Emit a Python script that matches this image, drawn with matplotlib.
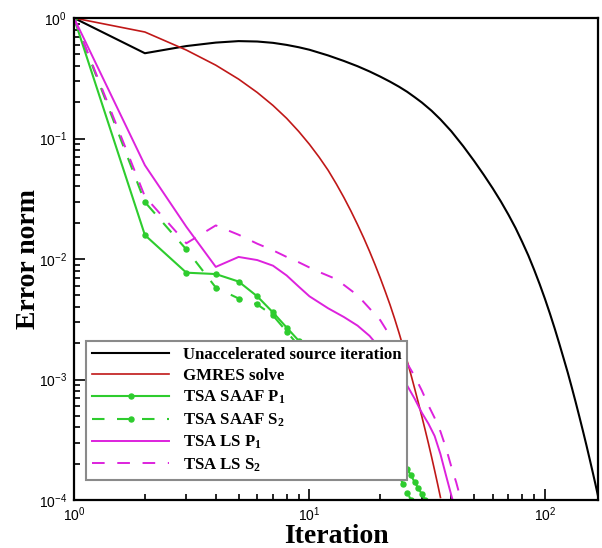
import numpy as np
import matplotlib
matplotlib.use("Agg")
import matplotlib.pyplot as plt
from matplotlib.ticker import LogLocator, FuncFormatter, NullFormatter

plt.rcParams["mathtext.fontset"] = "custom"
plt.rcParams["mathtext.rm"] = "Liberation Serif:bold"
plt.rcParams["mathtext.bf"] = "Liberation Serif:bold"
plt.rcParams["mathtext.sf"] = "Liberation Sans"
plt.rcParams["mathtext.default"] = "rm"

# Unaccelerated source iteration
si_iter = [1, 2, 3, 4, 5, 6, 7, 8, 9, 10, 12, 14, 16, 18, 20, 22, 24, 26, 28, 30,
           33, 36, 40, 45, 50, 55, 60, 65, 70, 75, 80, 85, 90, 95, 100, 105, 110,
           115, 120, 125, 130, 135, 140, 145, 150, 155, 160, 164, 168]
si_err = [1.0, 0.51, 0.585, 0.625, 0.643, 0.638, 0.622, 0.598, 0.572, 0.545, 0.489,
          0.44, 0.398, 0.36, 0.326, 0.296, 0.269, 0.244, 0.22, 0.199, 0.17, 0.144,
          0.115, 0.0862, 0.0652, 0.0499, 0.0386, 0.030, 0.0233, 0.0181, 0.0139,
          0.0107, 0.00813, 0.00617, 0.00467, 0.00352, 0.00265, 0.00199, 0.0015,
          0.00114, 0.00086, 0.00065, 0.000492, 0.000374, 0.000285, 0.000217,
          0.000166, 0.000134, 0.000108]

# GMRES solve
gm_iter = list(range(1, 37))
gm_err = [1.0, 0.765, 0.542, 0.406, 0.311, 0.241, 0.188, 0.147, 0.1145, 0.0894,
          0.0698, 0.0545, 0.042, 0.0324, 0.025, 0.0193, 0.01495, 0.01156, 0.00894,
          0.00692, 0.00535, 0.00415, 0.00319, 0.00244, 0.00186, 0.00142, 0.00109,
          0.000834, 0.000641, 0.000494, 0.000381, 0.000295, 0.000228, 0.000176,
          0.000136, 0.000105]

# TSA SAAF P1
saaf_p1_iter = list(range(1, 32))
saaf_p1_err = [1.0, 0.0158, 0.0077, 0.0075, 0.0065, 0.0049, 0.0036, 0.0027, 0.0021,
               0.00175, 0.00148, 0.00126, 0.00108, 0.00093, 0.0008, 0.00069, 0.0006,
               0.00052, 0.00045, 0.00039, 0.00034, 0.0003, 0.00026, 0.00023, 0.0002,
               0.00018, 0.00016, 0.00014, 0.000125, 0.000112, 0.0001]

# TSA SAAF S2
saaf_s2_iter = list(range(1, 28))
saaf_s2_err = [1.0, 0.0297, 0.012, 0.0058, 0.0047, 0.0042, 0.0034, 0.0025, 0.0019,
               0.0015, 0.00125, 0.00105, 0.0009, 0.00077, 0.00066, 0.00057, 0.00049,
               0.00042, 0.00036, 0.00031, 0.00026, 0.00022, 0.00019, 0.00016,
               0.000135, 0.000115, 0.0001]

# TSA LS P1
ls_p1_iter = [1, 2, 3, 4, 5, 6, 7, 8, 9, 10, 12, 14, 16, 18, 20, 22, 24, 26, 28, 30,
              32, 34, 36, 38, 40, 41]
ls_p1_err = [1.0, 0.06, 0.0185, 0.0086, 0.0104, 0.0098, 0.0088, 0.0073, 0.0059,
             0.0049, 0.0039, 0.0033, 0.0028, 0.0023, 0.0018, 0.0014, 0.0011, 0.00089,
             0.00069, 0.00053, 0.00043, 0.00034, 0.00024, 0.00016, 0.00011, 0.000092]

# TSA LS S2
ls_s2_iter = [1, 2, 3, 4, 5, 6, 7, 8, 9, 10, 11, 13, 16, 20, 22, 24, 26, 28, 30, 32,
              34, 36, 38, 40, 42, 44]
ls_s2_err = [1.0, 0.033, 0.0135, 0.019, 0.0159, 0.0134, 0.0118, 0.0104, 0.0094,
             0.0085, 0.0078, 0.0068, 0.005, 0.0031, 0.0023, 0.00175, 0.00136, 0.00106,
             0.00081, 0.00061, 0.00048, 0.00037, 0.00027, 0.00019, 0.00014, 0.0001]

labels = ["Unaccelerated source iteration", "GMRES solve", r"TSA SAAF P$_1$",
          r"TSA SAAF S$_2$", r"TSA LS P$_1$", r"TSA LS S$_2$"]

GREEN = "#2ECC2E"
MAGENTA = "#DD22DD"
RED = "#C01818"

fig = plt.figure(figsize=(6.02, 5.48), dpi=100)
ax = fig.add_axes([74 / 602, 1 - 500 / 548, 524 / 602, 482 / 548])

ax.plot(si_iter, si_err, color="black", lw=1.5, label=labels[0])
ax.plot(gm_iter, gm_err, color=RED, lw=1.2, label=labels[1])
ax.plot(saaf_p1_iter, saaf_p1_err, color=GREEN, lw=1.5, marker="o", ms=3.6,
        label=labels[2])
ax.plot(saaf_s2_iter, saaf_s2_err, color=GREEN, lw=1.5, marker="o", ms=3.6,
        ls=(0, (6, 6)), label=labels[3])
ax.plot(ls_p1_iter, ls_p1_err, color=MAGENTA, lw=1.4, label=labels[4])
ax.plot(ls_s2_iter, ls_s2_err, color=MAGENTA, lw=1.4, ls=(0, (6.5, 6.5)),
        label=labels[5])

ax.set_xscale("log")
ax.set_yscale("log")
ax.set_xlim(1, 168)
ax.set_ylim(1e-4, 1)

fmt = FuncFormatter(lambda v, p: r"$\mathsf{10^{%d}}$" % int(round(np.log10(v))))
for axis in (ax.xaxis, ax.yaxis):
    axis.set_major_locator(LogLocator(base=10))
    axis.set_minor_locator(LogLocator(base=10, subs=np.arange(2, 10)))
    axis.set_major_formatter(fmt)
    axis.set_minor_formatter(NullFormatter())

ax.tick_params(which="both", direction="in", top=False, right=False, width=1.2,
               labelsize=10)
ax.tick_params(which="major", length=8)
ax.tick_params(which="minor", length=4)
ax.tick_params(axis="y", pad=5)
ax.tick_params(axis="x", pad=4)

for s in ax.spines.values():
    s.set_linewidth(1.6)

ax.set_xlabel("Iteration", fontfamily="Liberation Serif", fontweight="bold",
              fontsize=20, va="baseline")
ax.xaxis.set_label_coords(0.5, -(543 - 500) / 482)
ax.set_ylabel("Error norm", fontfamily="Liberation Serif", fontweight="bold",
              fontsize=20, va="baseline")
ax.yaxis.set_label_coords(-(74 - 35) / 524, 0.5)

leg = ax.legend(loc="upper left", bbox_to_anchor=(86 / 602, 1 - 341 / 548),
                bbox_transform=fig.transFigure, borderaxespad=0, fancybox=False,
                framealpha=1, edgecolor="#8a8a8a", handlelength=4.6,
                handletextpad=0.8, labelspacing=0.3, borderpad=0.35,
                prop={"family": "Liberation Serif", "weight": "bold", "size": 12.1})
leg.get_frame().set_linewidth(1.5)

fig.savefig("out.png", dpi=100)
